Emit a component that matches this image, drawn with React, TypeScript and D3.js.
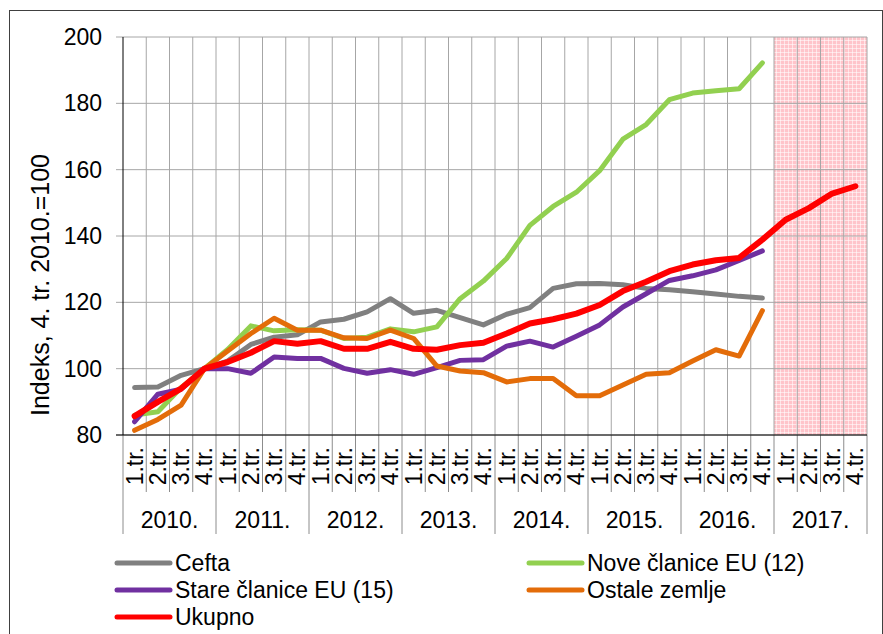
import React from 'react'
import * as d3 from 'd3'

const years = ['2010.', '2011.', '2012.', '2013.', '2014.', '2015.', '2016.', '2017.']
const quarterNames = ['1.tr.', '2.tr.', '3.tr.', '4.tr.']
const yTicks = [80, 100, 120, 140, 160, 180, 200]

const cefta = [94.3, 94.5, 98, 100, 102.3, 107.3, 109.5, 110.2, 114.1, 114.9, 117.1, 121.1, 116.7, 117.6, 115.4, 113.2, 116.4, 118.4, 124.2, 125.6, 125.7, 125.3, 124.2, 123.8, 123.2, 122.5, 121.8, 121.3]
const nove = [86, 87, 94.3, 100, 105.8, 112.9, 111.4, 111.7, 111.6, 109.1, 109.5, 112, 111.1, 112.6, 121.1, 126.4, 133.2, 143.2, 148.9, 153.2, 159.7, 169.2, 173.6, 181.1, 183.1, 183.8, 184.4, 192.2]
const stare = [84, 92.3, 93.8, 100, 100, 98.6, 103.5, 103.1, 103.1, 100.1, 98.6, 99.7, 98.3, 100.3, 102.5, 102.7, 106.8, 108.3, 106.5, 109.8, 113.2, 118.6, 122.6, 126.6, 128, 129.8, 132.6, 135.5]
const ostale = [81.4, 84.7, 89, 100, 105.3, 110.6, 115.2, 111.6, 111.6, 109.3, 109.1, 111.6, 109.1, 100.8, 99.3, 98.8, 96, 97, 97, 91.8, 91.8, 95.1, 98.3, 98.8, 102.3, 105.7, 103.8, 117.5]
const ukupno = [85.7, 90, 94, 100, 102, 104.8, 108.3, 107.5, 108.3, 106, 106, 108.1, 106, 105.7, 107.1, 107.8, 110.6, 113.6, 114.9, 116.6, 119.2, 123.4, 126.2, 129.4, 131.4, 132.7, 133.4, 138.9, 144.9, 148.4, 152.8, 155]

const series = [
  { name: 'Cefta', values: cefta, color: '#808080' },
  { name: 'Nove članice EU (12)', values: nove, color: '#92d050' },
  { name: 'Stare članice EU (15)', values: stare, color: '#7030a0' },
  { name: 'Ostale zemlje', values: ostale, color: '#e36c09' },
  { name: 'Ukupno', values: ukupno, color: '#ff0000' }
]

const FONT = '"Liberation Sans", Arial, sans-serif'

export default function App() {
  const width = 883,
    height = 634,
    left = 123,
    right = 867,
    top = 37,
    bottom = 435

  const slots = d3.range(years.length * 4)
  const x = d3.scaleBand<number>().domain(slots).range([left, right])
  const y = d3.scaleLinear().domain([80, 200]).range([bottom, top])
  const bw = x.bandwidth()
  const cx = (i: number) => (x(i) as number) + bw / 2

  const line = d3
    .line<number>()
    .x((d, i) => cx(i))
    .y(d => y(d))

  const shadeStart = x(28) as number

  // legend rows follow excel order, two columns
  const legendPos = [
    { x: 117, y: 563 },
    { x: 529, y: 563 },
    { x: 117, y: 590 },
    { x: 529, y: 590 },
    { x: 117, y: 617 }
  ]

  return (
    <svg
      width={width}
      height={height}
      style={{ position: 'absolute', left: 0, top: 0, background: '#fff' }}
      fontFamily={FONT}>
      <defs>
        <pattern id='pinkgrid' width='4' height='4' patternUnits='userSpaceOnUse'>
          <rect width='4' height='4' fill='#ffc4ca' />
          <line x1='0' y1='0.5' x2='4' y2='0.5' stroke='#ffffff' strokeOpacity='0.55' />
          <line x1='0.5' y1='0' x2='0.5' y2='4' stroke='#ffffff' strokeOpacity='0.55' />
        </pattern>
      </defs>

      <rect x={9.5} y={10.5} width={873} height={640} fill='none' stroke='#404040' />

      <rect
        x={shadeStart}
        y={top}
        width={right - shadeStart}
        height={bottom - top}
        fill='url(#pinkgrid)'
      />

      {/* grid */}
      {yTicks.map(t => (
        <line key={t} x1={left - 7} x2={right} y1={y(t)} y2={y(t)} stroke='#a6a6a6' />
      ))}
      {slots.map(i => (
        <line
          key={i}
          x1={(x(i) as number) + bw}
          x2={(x(i) as number) + bw}
          y1={top}
          y2={bottom}
          stroke='#a6a6a6'
        />
      ))}

      {/* x axis separators */}
      {slots.map(i => (
        <line
          key={'s' + i}
          x1={x(i) as number}
          x2={x(i) as number}
          y1={bottom}
          y2={i % 4 === 0 ? 534 : 492}
          stroke='#8c8c8c'
        />
      ))}
      <line x1={right} x2={right} y1={bottom} y2={534} stroke='#8c8c8c' />

      <line x1={left} x2={left} y1={top} y2={bottom} stroke='#000' />
      <line x1={left - 7} x2={right} y1={bottom} y2={bottom} stroke='#000' />

      {yTicks.map(t => (
        <text key={t} x={102} y={y(t)} dy='.35em' textAnchor='end' fontSize={23}>
          {t}
        </text>
      ))}

      {slots.map(i => (
        <text
          key={'q' + i}
          transform={`translate(${cx(i)},447) rotate(-90)`}
          dy='.35em'
          textAnchor='end'
          fontSize={23}>
          {quarterNames[i % 4]}
        </text>
      ))}
      {years.map((yr, k) => (
        <text
          key={yr}
          x={(x(k * 4) as number) + bw * 2}
          y={528}
          textAnchor='middle'
          fontSize={23}>
          {yr}
        </text>
      ))}

      <text
        transform='translate(40,285) rotate(-90)'
        dy='.35em'
        textAnchor='middle'
        fontSize={25}>
        Indeks, 4. tr. 2010.=100
      </text>

      {series.map(s => (
        <path
          key={s.name}
          d={line(s.values) || ''}
          fill='none'
          stroke={s.color}
          strokeWidth={s.name === 'Ukupno' ? 6 : 5}
          strokeLinejoin='round'
          strokeLinecap='round'
        />
      ))}

      {series.map((s, i) => (
        <g key={s.name} transform={`translate(${legendPos[i].x},${legendPos[i].y})`}>
          <line x1={0} x2={53} y1={0} y2={0} stroke={s.color} strokeWidth={5} strokeLinecap='round' />
          <text x={58} dy='.35em' fontSize={23}>
            {s.name}
          </text>
        </g>
      ))}
    </svg>
  )
}
